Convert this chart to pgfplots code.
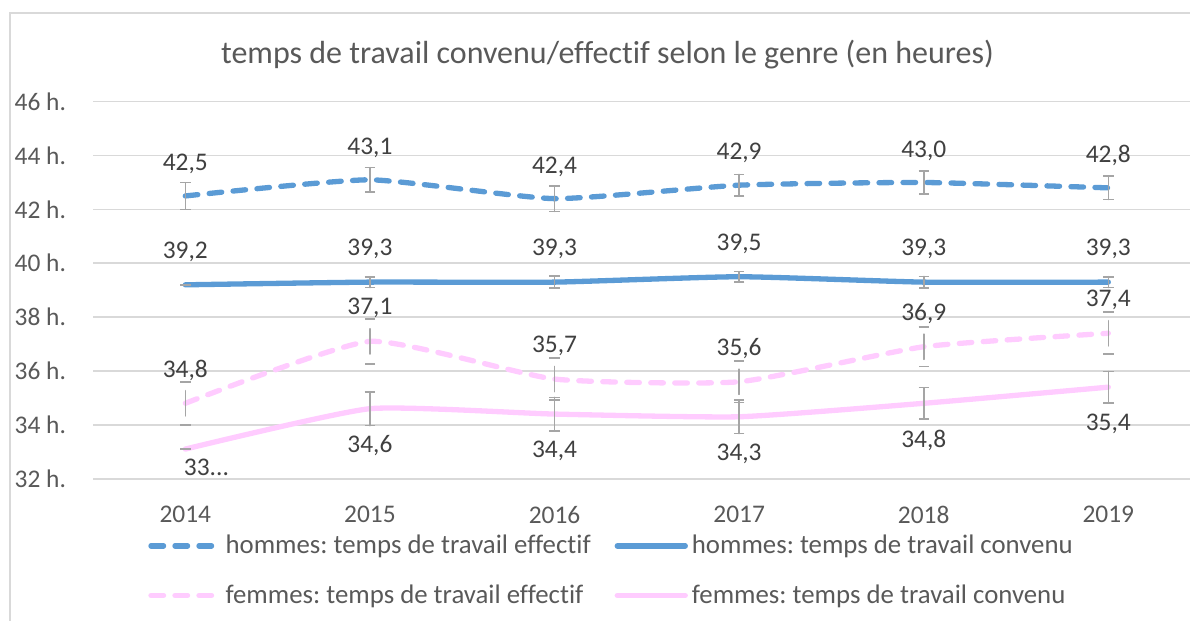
\documentclass[border=0pt]{standalone}
\usepackage{fontspec}
\setmainfont{Carlito}[Ligatures={NoCommon}]
\usepackage{pgfplots}
\usepackage{pgfplotstable}
\pgfplotsset{compat=1.18}
\frenchspacing

\definecolor{hblue}{HTML}{5B9BD5}
\definecolor{fpink}{HTML}{FFCCFF}
\definecolor{gridgray}{HTML}{D9D9D9}
\definecolor{txtgray}{HTML}{595959}
\definecolor{lblgray}{HTML}{404040}
\definecolor{errgray}{HTML}{A5A5A5}

% x = 0..5 for 2014..2019, e = error bar half length
\pgfplotstableread{
x y e lab
0 42.5 0.50 42,5
1 43.1 0.45 43,1
2 42.4 0.47 42,4
3 42.9 0.40 42,9
4 43.0 0.42 43,0
5 42.8 0.43 42,8
}\hommeseff
\pgfplotstableread{
x y e lab
0 39.2 0.00 39,2
1 39.3 0.20 39,3
2 39.3 0.22 39,3
3 39.5 0.19 39,5
4 39.3 0.21 39,3
5 39.3 0.20 39,3
}\hommesconv
\pgfplotstableread{
x y e lab
0 34.8 0.80 34,8
1 37.1 0.83 37,1
2 35.7 0.78 35,7
3 35.6 0.77 35,6
4 36.9 0.73 36,9
5 37.4 0.78 37,4
}\femmeseff
\pgfplotstableread{
x y e lab
0 33.1 0.00 {}
1 34.6 0.63 34,6
2 34.4 0.62 34,4
3 34.3 0.62 34,3
4 34.8 0.58 34,8
5 35.4 0.58 35,4
}\femmesconv

\newcommand{\lblfont}{\fontsize{12.7bp}{15bp}\selectfont}

\begin{document}
\begin{tikzpicture}
\useasboundingbox (-46.5bp,-71bp) rectangle (548.5bp,239.35bp);
\draw[gridgray, line width=1bp] (-41.5bp,-80bp) -- (-41.5bp,232.6bp) -- (560bp,232.6bp);
\begin{axis}[
    at={(0,0)}, anchor=south west,
    scale only axis,
    width=549.2bp, height=188.5bp,
    xmin=-0.5, xmax=5.45,
    ymin=32, ymax=46,
    xtick={0,1,2,3,4,5},
    xticklabels={2014,2015,2016,2017,2018,2019},
    ytick={32,34,36,38,40,42,44,46},
    yticklabels={32 h.,34 h.,36 h.,38 h.,40 h.,42 h.,44 h.,46 h.},
    axis line style={draw=none},
    major tick length=0pt,
    ymajorgrids,
    grid style={gridgray, line width=0.8bp},
    ticklabel style={font=\lblfont, text=txtgray},
    yticklabel style={anchor=east, xshift=-10bp},
    xticklabel style={anchor=center, yshift=-18bp},
    title={temps de travail convenu/effectif selon le genre (en heures)},
    title style={at={(0.4684,1)}, anchor=center, yshift=17.35bp, inner sep=0pt,
        font=\fontsize{16bp}{18bp}\selectfont, text=txtgray},
    legend columns=2,
    legend cell align=left,
    legend style={draw=none, fill=none, font=\fontsize{13.4bp}{15bp}\selectfont,
        text=txtgray, at={(0.05,0)}, anchor=north west, yshift=-26bp,
        inner sep=0pt, column sep=0bp, row sep=10bp,
        /tikz/every even column/.append style={column sep=10bp}},
    legend image code/.code={\draw[#1] (0bp,0bp) -- (34bp,0bp);},
    nodes near coords,
    point meta=explicit symbolic,
    every node near coord/.append style={font=\lblfont, text=lblgray, anchor=center, inner sep=0pt},
    error bars/y dir=both,
    error bars/y explicit,
    error bars/error bar style={errgray, line width=0.8bp},
    error bars/error mark options={rotate=90, mark size=2.6bp, errgray, line width=0.8bp},
    every axis plot/.append style={line width=2.65bp, line cap=round, line join=round, mark=none},
]
\addplot[hblue, smooth, tension=0.3, dash pattern=on 6.3bp off 5.7bp,
    every node near coord/.append style={yshift=16bp}]
    table[x=x, y=y, y error=e, meta=lab] {\hommeseff};
\addlegendentry{hommes: temps de travail effectif}
\addplot[hblue, smooth, tension=0.3,
    every node near coord/.append style={yshift=16.5bp}]
    table[x=x, y=y, y error=e, meta=lab] {\hommesconv};
\addlegendentry{hommes: temps de travail convenu}
\addplot[fpink, smooth, tension=0.3, dash pattern=on 6.3bp off 5.7bp,
    every node near coord/.append style={yshift=16.5bp}]
    table[x=x, y=y, y error=e, meta=lab] {\femmeseff};
\addlegendentry{femmes: temps de travail effectif}
\addplot[fpink, smooth, tension=0.3,
    every node near coord/.append style={yshift=-18.5bp}]
    table[x=x, y=y, y error=e, meta=lab] {\femmesconv};
\addlegendentry{femmes: temps de travail convenu}
\addplot[draw=none, forget plot, error bars/y dir=none,
    every node near coord/.append style={anchor=west, xshift=-2bp, yshift=-9.2bp}]
    coordinates {(0,33.1) [33...]};
\end{axis}
\end{tikzpicture}
\end{document}
